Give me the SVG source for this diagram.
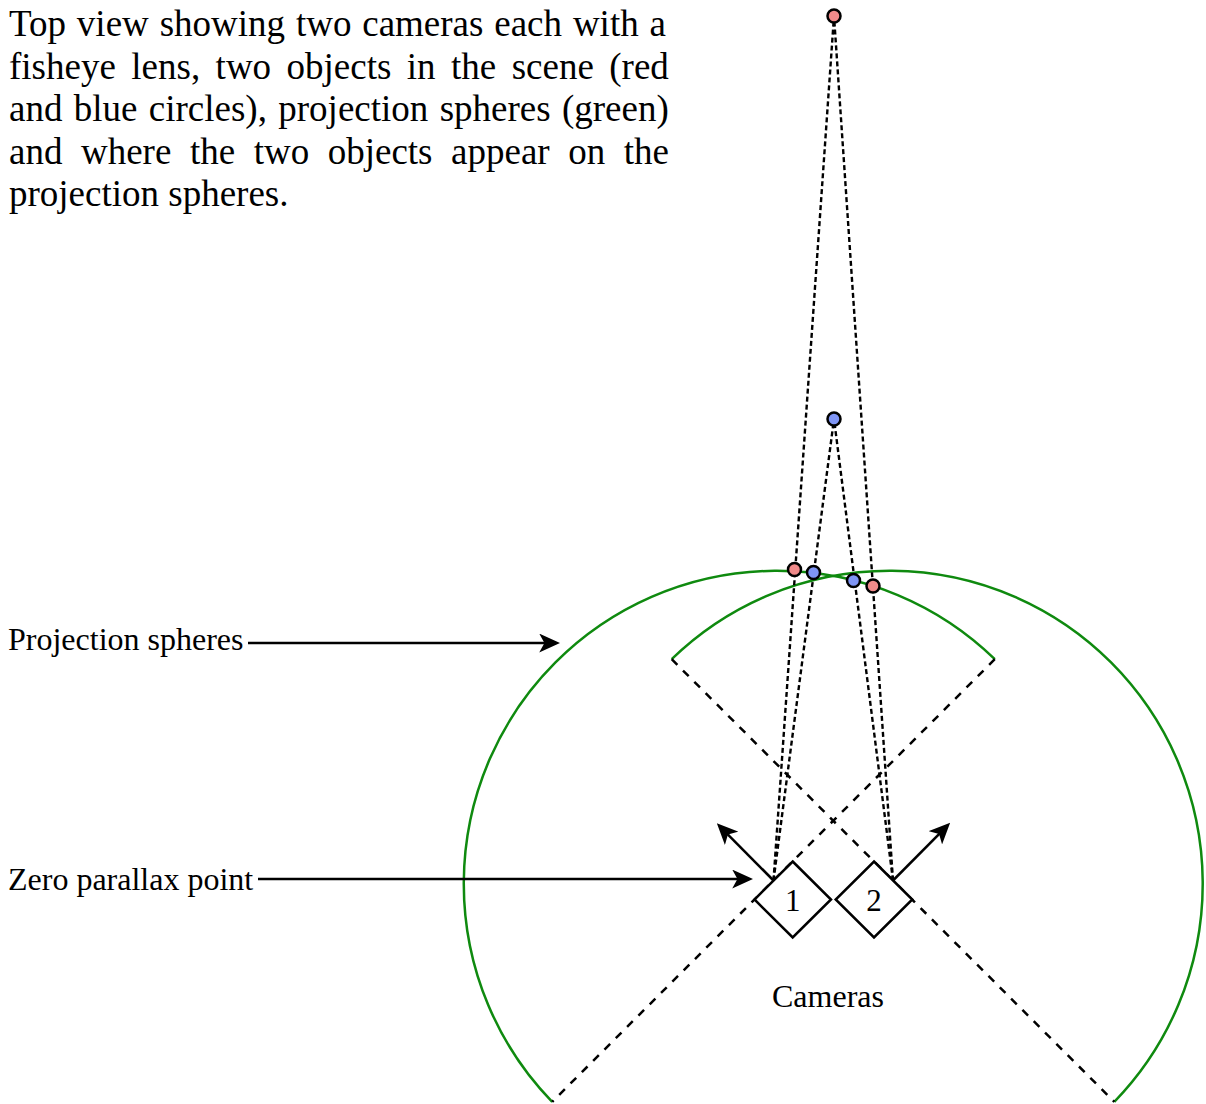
<svg xmlns="http://www.w3.org/2000/svg" width="1206" height="1104" viewBox="0 0 1206 1104">
  <style>
    .txt { font-family: "Liberation Serif", "Times New Roman", serif; fill: #000; }
    .sphere { fill: none; stroke: #0f8a0f; stroke-width: 2.5; }
    .fov { fill: none; stroke: #000; stroke-width: 2.5; stroke-dasharray: 8 8; }
    .ray { fill: none; stroke: #000; stroke-width: 2.4; stroke-dasharray: 5 3; }
    .arrow { fill: none; stroke: #000; stroke-width: 2.5; marker-end: url(#ah); }
    .cam { fill: #fff; stroke: #000; stroke-width: 2.5; }
    .red { fill: #f08a8a; stroke: #000; stroke-width: 2.5; }
    .blue { fill: #7f95f5; stroke: #000; stroke-width: 2.5; }
  </style>
  <defs>
    <marker id="ah" markerUnits="userSpaceOnUse" viewBox="0 0 20 18" refX="16" refY="9" markerWidth="21" markerHeight="19" orient="auto">
      <path d="M0,0 L20,9 L0,18 L5,9 Z" fill="#000"/>
    </marker>
  </defs>

  <g id="caption">
    <text class="txt" font-size="37" x="9" y="36" word-spacing="1.6">Top view showing two cameras each with a</text>
    <text class="txt" font-size="37" x="9" y="78.5" word-spacing="6.2">fisheye lens, two objects in the scene (red</text>
    <text class="txt" font-size="37" x="9" y="121" word-spacing="2.1">and blue circles), projection spheres (green)</text>
    <text class="txt" font-size="37" x="9" y="163.5" word-spacing="9.3">and where the two objects appear on the</text>
    <text class="txt" font-size="37" x="9" y="206">projection spheres.</text>
  </g>

  <g id="sphere1">
    <path class="sphere" d="M552.2,1101.8 A313,313 0 0 1 994.8,659.2"/>
  </g>
  <g id="sphere2">
    <path class="sphere" d="M671.7,659.2 A313,313 0 0 1 1114.3,1101.8"/>
  </g>

  <g id="connectors">
    <line class="fov" x1="994.8" y1="659.2" x2="552.2" y2="1101.8"/>
    <line class="fov" x1="671.7" y1="659.2" x2="1114.3" y2="1101.8"/>
    <line class="ray" x1="773.5" y1="880.5" x2="834" y2="16"/>
    <line class="ray" x1="773.5" y1="880.5" x2="834" y2="419"/>
    <line class="ray" x1="893" y1="880.5" x2="834" y2="16"/>
    <line class="ray" x1="893" y1="880.5" x2="834" y2="419"/>
    <line class="arrow" x1="773.5" y1="880.5" x2="719.8" y2="826.3"/>
    <line class="arrow" x1="893" y1="880.5" x2="947.2" y2="825.8"/>
    <line class="arrow" x1="258" y1="879" x2="749" y2="879"/>
    <line class="arrow" x1="248" y1="643" x2="556" y2="643"/>
  </g>

  <g id="camera1">
    <polygon class="cam" points="792.7,861.5 831,899.5 792.7,937.5 754.5,899.5"/>
    <text class="txt" font-size="31" x="792.7" y="910.5" text-anchor="middle">1</text>
  </g>
  <g id="camera2">
    <polygon class="cam" points="874,861.5 912.3,899.5 874,937.5 835.7,899.5"/>
    <text class="txt" font-size="31" x="874" y="910.5" text-anchor="middle">2</text>
  </g>

  <g id="object-red"><circle class="red" cx="834" cy="16" r="6.5"/></g>
  <g id="object-blue"><circle class="blue" cx="834" cy="419" r="6.5"/></g>
  <g id="proj-red-1"><circle class="red" cx="794.5" cy="569.5" r="6.5"/></g>
  <g id="proj-blue-1"><circle class="blue" cx="813.5" cy="572.5" r="6.5"/></g>
  <g id="proj-blue-2"><circle class="blue" cx="853.5" cy="580.5" r="6.5"/></g>
  <g id="proj-red-2"><circle class="red" cx="873" cy="586" r="6.5"/></g>

  <g id="label-spheres">
    <text class="txt" font-size="32" x="8" y="650">Projection spheres</text>
  </g>
  <g id="label-zpp">
    <text class="txt" font-size="32" x="8" y="890">Zero parallax point</text>
  </g>
  <g id="label-cameras">
    <text class="txt" font-size="32" x="828" y="1006.5" text-anchor="middle">Cameras</text>
  </g>
</svg>
